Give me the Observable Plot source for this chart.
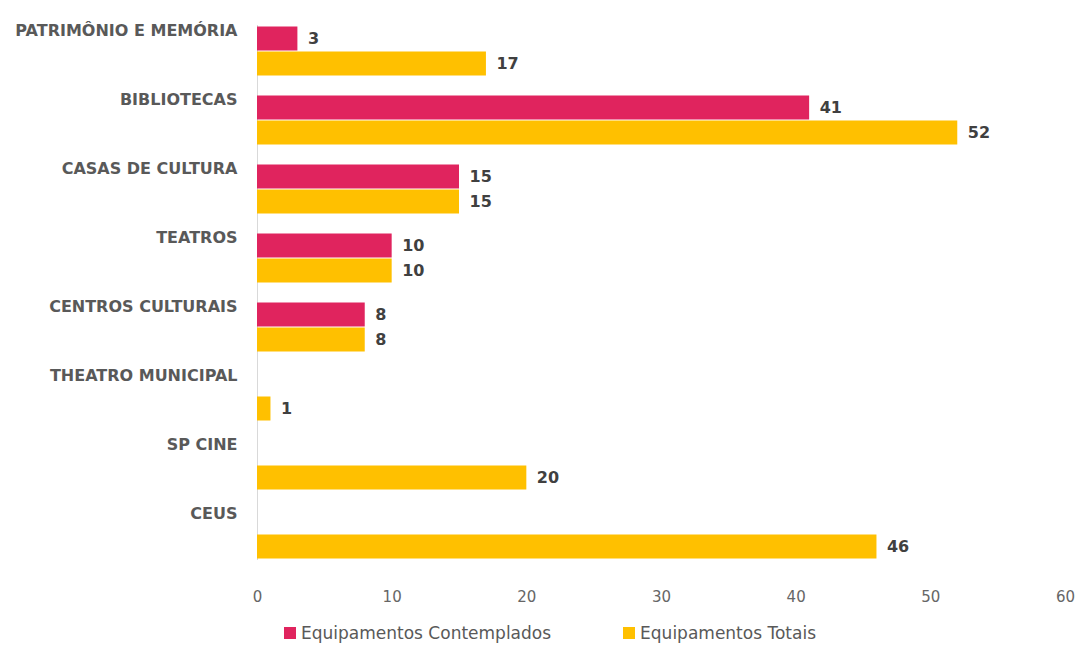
<!DOCTYPE html>
<html><head><meta charset="utf-8">
<script src="https://cdn.jsdelivr.net/npm/d3@7"></script>
<script src="https://cdn.jsdelivr.net/npm/@observablehq/plot@0.6"></script>
<style>
body{margin:0;background:#fff;font-family:"DejaVu Sans",sans-serif}
#legend{display:flex;align-items:center;margin-left:284px;margin-top:6px;height:30px;font-size:17px;color:#595959}
.item{display:flex;align-items:center}
.sw{width:12px;height:12px;margin-right:5px}
</style>
</head><body>
<div id="chart"></div>
<div id="legend"></div>
<script>
const categories = ["PATRIMÔNIO E MEMÓRIA","BIBLIOTECAS","CASAS DE CULTURA","TEATROS","CENTROS CULTURAIS","THEATRO MUNICIPAL","SP CINE","CEUS"];
const contemplados = [3,41,15,10,8,0,0,0];
const totais = [17,52,15,10,8,1,20,46];
const seriesNames = ["Equipamentos Contemplados","Equipamentos Totais"];
const seriesColors = ["#E0245E","#FFC000"];
const xTicks = [0,10,20,30,40,50,60];

const data = categories.flatMap((c,i)=>[
  {category:c, series:seriesNames[0], value:contemplados[i]},
  {category:c, series:seriesNames[1], value:totais[i]}
]);
const labeled = data.filter(d=>d.value>0);

const chart = Plot.plot({
  width:1080, height:612,
  marginLeft:257, marginRight:15, marginTop:14, marginBottom:42,
  style:{fontFamily:"'DejaVu Sans',sans-serif", fontSize:"14px", color:"#666666", background:"#fff"},
  x:{domain:[0,60], axis:null},
  fy:{domain:categories, paddingInner:0.265, paddingOuter:0.116, label:null, axis:null},
  y:{domain:seriesNames, padding:0, axis:null},
  color:{domain:seriesNames, range:seriesColors},
  marks:[
    Plot.frame({anchor:"left", stroke:"#d9d9d9", facet:"super"}),
    Plot.barX(data, {x:"value", y:"series", fy:"category", fill:"series", insetTop:0.5, insetBottom:0.5}),
    Plot.text(labeled, {x:"value", y:"series", fy:"category", text:d=>String(d.value), textAnchor:"start", dx:10, fontWeight:"bold", fill:"#404040", fontSize:16}),
    Plot.text(categories, {fy:d=>d, text:d=>d, frameAnchor:"top-left", textAnchor:"end", lineAnchor:"middle", dx:-20, dy:5, fontWeight:"bold", fill:"#595959", fontSize:16}),
    Plot.axisX({ticks:xTicks, tickSize:0, tickPadding:32, label:null, fontSize:15, fill:"#666666"})
  ]
});
document.getElementById("chart").append(chart);

const legend = document.getElementById("legend");
seriesNames.forEach((s,i)=>{
  const it = document.createElement("div");
  it.className = "item";
  it.style.marginRight = i===0 ? "72px" : "0";
  const sw = document.createElement("div");
  sw.className = "sw";
  sw.style.background = seriesColors[i];
  const t = document.createElement("span");
  t.textContent = s;
  it.append(sw, t);
  legend.append(it);
});
</script>
</body></html>
